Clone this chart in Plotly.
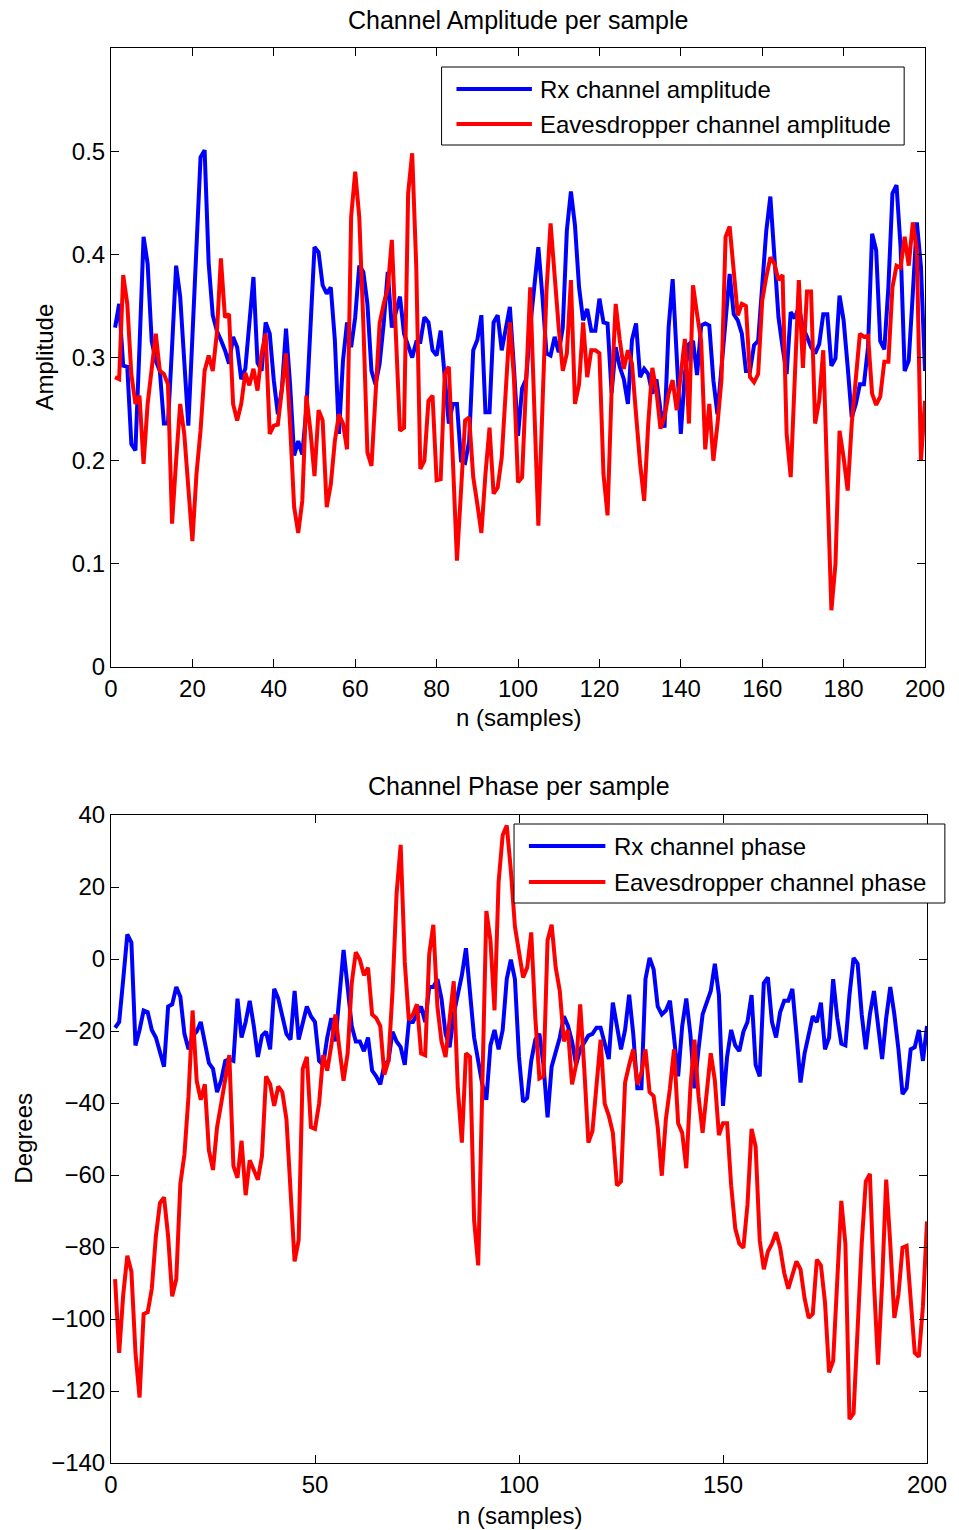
import plotly.graph_objects as go

n = list(range(1, 201))

amp_rx = [0.329,0.352,0.292,0.291,0.216,0.210,0.31,0.417,0.391,0.316,
0.297,0.287,0.236,0.236,0.31,0.389,0.359,0.300,0.234,0.32,
0.41,0.494,0.501,0.391,0.341,0.326,0.317,0.307,0.294,0.320,
0.310,0.279,0.289,0.329,0.378,0.295,0.287,0.334,0.323,0.278,
0.245,0.270,0.328,0.274,0.205,0.219,0.206,0.25,0.33,0.407,
0.402,0.370,0.362,0.368,0.317,0.226,0.297,0.334,0.310,0.339,
0.389,0.383,0.352,0.287,0.274,0.294,0.333,0.383,0.329,0.345,
0.359,0.323,0.310,0.300,0.315,0.315,0.339,0.334,0.307,0.302,
0.326,0.284,0.236,0.255,0.255,0.200,0.198,0.219,0.307,0.317,
0.341,0.247,0.247,0.334,0.341,0.307,0.328,0.349,0.29,0.224,
0.270,0.279,0.33,0.37,0.407,0.359,0.304,0.302,0.320,0.305,
0.329,0.423,0.461,0.428,0.368,0.336,0.347,0.326,0.326,0.357,
0.334,0.333,0.266,0.310,0.291,0.279,0.255,0.317,0.333,0.281,
0.289,0.284,0.265,0.279,0.249,0.232,0.329,0.376,0.297,0.226,
0.284,0.313,0.316,0.283,0.331,0.333,0.331,0.278,0.245,0.29,
0.34,0.381,0.342,0.336,0.323,0.287,0.287,0.312,0.316,0.365,
0.423,0.456,0.391,0.339,0.310,0.284,0.344,0.338,0.349,0.329,
0.320,0.310,0.304,0.313,0.342,0.342,0.292,0.299,0.360,0.336,
0.291,0.242,0.255,0.274,0.274,0.310,0.420,0.404,0.316,0.308,
0.368,0.459,0.467,0.407,0.287,0.297,0.362,0.431,0.388,0.287]

amp_eve = [0.281,0.279,0.380,0.352,0.284,0.255,0.263,0.197,0.255,0.291,
0.323,0.287,0.284,0.274,0.139,0.20,0.255,0.226,0.174,0.122,
0.187,0.229,0.287,0.302,0.287,0.323,0.396,0.339,0.342,0.255,
0.239,0.255,0.285,0.273,0.289,0.268,0.304,0.323,0.226,0.234,
0.235,0.268,0.304,0.235,0.155,0.130,0.161,0.263,0.229,0.185,
0.249,0.239,0.155,0.177,0.219,0.245,0.236,0.211,0.436,0.480,
0.436,0.333,0.208,0.195,0.268,0.333,0.352,0.367,0.414,0.329,
0.229,0.232,0.459,0.498,0.388,0.192,0.200,0.258,0.263,0.181,
0.182,0.284,0.291,0.200,0.103,0.171,0.239,0.242,0.184,0.158,
0.130,0.187,0.232,0.168,0.174,0.203,0.268,0.334,0.28,0.179,
0.184,0.278,0.368,0.252,0.137,0.252,0.365,0.430,0.375,0.329,
0.287,0.304,0.375,0.255,0.274,0.334,0.281,0.307,0.307,0.304,
0.187,0.147,0.268,0.352,0.317,0.289,0.307,0.294,0.245,0.197,
0.161,0.236,0.290,0.268,0.231,0.242,0.265,0.278,0.249,0.287,
0.318,0.236,0.370,0.342,0.316,0.211,0.255,0.200,0.235,0.279,
0.417,0.427,0.384,0.341,0.352,0.350,0.281,0.276,0.284,0.355,
0.378,0.397,0.391,0.375,0.380,0.226,0.184,0.284,0.375,0.290,
0.364,0.364,0.236,0.258,0.307,0.18,0.055,0.100,0.229,0.203,
0.171,0.236,0.278,0.323,0.320,0.321,0.265,0.254,0.262,0.296,
0.296,0.368,0.389,0.387,0.417,0.389,0.431,0.404,0.200,0.258]

ph_rx = [-19.1,-17.5,-5.6,6.8,4.6,-24.0,-19.7,-14.3,-14.8,-19.7,
-21.8,-26.2,-29.9,-13.2,-12.6,-7.8,-10.5,-20.8,-25.1,-21.3,
-20.2,-17.5,-23.5,-28.9,-30.5,-37.0,-33.7,-28.3,-27.8,-28.3,
-11.0,-21.8,-17.5,-11.6,-18.6,-27.2,-21.3,-20.2,-25.1,-8.3,
-11.0,-16.4,-20.8,-22.4,-8.9,-22.4,-17.5,-13.2,-15.9,-17.5,
-28.3,-29.4,-21.8,-16.4,-22.9,-11.0,2.5,-7.8,-18.6,-22.9,
-22.9,-25.6,-21.8,-31.0,-32.6,-34.8,-29.4,-28.3,-20.2,-22.9,
-24.5,-29.4,-17.5,-17.5,-15.4,-13.2,-17.5,-7.8,-7.8,-5.6,
-11.0,-20.8,-24.5,-15.4,-9.9,-4.5,3.0,-8.9,-21.8,-28.3,
-34.8,-39.1,-24.0,-19.7,-25.1,-19.7,-5.6,-0.2,-5.6,-27.2,
-39.7,-38.6,-28.3,-22.4,-20.8,-29.4,-44.0,-29.9,-26.2,-21.8,
-15.9,-18.6,-22.9,-29.4,-25.1,-22.9,-21.3,-20.8,-19.1,-19.1,
-24.0,-27.8,-12.1,-18.6,-25.1,-19.7,-9.9,-20.8,-35.9,-35.9,
-5.6,0.3,-2.9,-13.2,-15.4,-14.3,-11.6,-21.8,-32.6,-18.6,
-11.0,-20.8,-35.9,-25.1,-15.4,-12.1,-8.9,-1.3,-10.0,-40.8,
-27.2,-19.7,-24.0,-25.6,-20.2,-17.5,-10.0,-29.4,-32.6,-6.7,
-5.1,-17.5,-21.8,-14.8,-11.6,-11.6,-8.3,-20.8,-34.3,-26.2,
-20.8,-15.9,-17.5,-12.1,-25.1,-21.8,-5.6,-16.4,-23.5,-24.0,
-10.0,0.3,-1.3,-15.4,-25.1,-15.4,-8.9,-18.6,-27.8,-16.4,
-7.8,-15.4,-25.1,-37.5,-35.9,-25.1,-24.5,-19.7,-28.3,-18.6]

ph_eve = [-88.9,-109.4,-93.2,-82.4,-86.8,-109.4,-121.8,-98.6,-98.1,-91.6,
-77.0,-67.8,-66.2,-77.0,-93.7,-88.9,-62.4,-54.3,-38.1,-14.3,
-33.8,-39.1,-34.8,-53.2,-58.6,-46.7,-40.2,-33.8,-26.7,-57.5,
-60.8,-50.5,-65.6,-55.9,-58.6,-61.3,-54.8,-32.6,-34.8,-40.8,
-35.4,-37.0,-44.5,-64.0,-84.0,-78.1,-30.5,-27.2,-46.7,-47.2,
-40.2,-26.7,-31.0,-24.0,-15.4,-25.1,-33.8,-26.2,-6.7,1.9,
-0.2,-4.5,-2.4,-15.4,-16.4,-18.6,-32.1,-28.3,-8.9,18.2,
31.7,-0.8,-17.0,-15.4,-12.6,-26.2,-26.7,1.4,9.5,-13.2,
-22.9,-27.2,-16.4,-6.2,-35.9,-51.0,-26.2,-27.2,-72.6,-85.1,
-35.9,13.3,5.2,-14.3,21.4,34.4,37.1,24.6,9.0,2.0,
-5.1,-2.4,7.4,-16.4,-33.2,-32.6,5.2,9.5,-2.4,-8.9,
-22.9,-19.7,-34.8,-29.4,-12.6,-30.5,-51.0,-47.8,-35.9,-22.4,
-40.2,-43.5,-48.3,-62.9,-61.8,-34.3,-29.4,-25.1,-34.8,-31.6,
-25.1,-37.0,-38.1,-46.7,-60.2,-44.5,-35.9,-25.1,-45.6,-48.3,
-58.1,-35.9,-22.4,-38.1,-48.3,-37.0,-26.2,-33.7,-48.9,-45.6,
-45.6,-62.9,-74.8,-79.1,-80.2,-68.3,-47.2,-52.1,-78.1,-86.2,
-81.3,-79.1,-75.9,-80.2,-87.2,-91.6,-87.8,-84.0,-86.2,-94.3,
-99.7,-98.6,-83.5,-85.1,-95.4,-114.8,-111.6,-89.9,-67.2,-79.1,
-127.8,-126.2,-100.8,-79.1,-61.8,-59.7,-89.9,-112.7,-89.9,-61.3,
-79.1,-99.7,-93.2,-80.2,-79.7,-95.4,-109.4,-110.5,-96.5,-72.9]

top_title = "Channel Amplitude per sample"
bot_title = "Channel Phase per sample"
top_legend = ["Rx channel amplitude", "Eavesdropper channel amplitude"]
bot_legend = ["Rx channel phase", "Eavesdropper channel phase"]

W, H = 959, 1530
ML, MR, MT, MB = 111, 26, 48, 67
PW = W - ML - MR
PH = H - MT - MB

def px(x):
    return (x - ML) / PW

def py(y):
    return (H - MB - y) / PH

FONT = "Liberation Sans, Arial, Helvetica, sans-serif"
FS = 24
BLUE = "#0000ff"
RED = "#ff0000"
LW = 4

fig = go.Figure()
fig.add_trace(go.Scatter(x=n, y=amp_rx, mode="lines", line=dict(color=BLUE, width=LW),
                         xaxis="x", yaxis="y", showlegend=False))
fig.add_trace(go.Scatter(x=n, y=amp_eve, mode="lines", line=dict(color=RED, width=LW),
                         xaxis="x", yaxis="y", showlegend=False))
fig.add_trace(go.Scatter(x=n, y=ph_rx, mode="lines", line=dict(color=BLUE, width=LW),
                         xaxis="x2", yaxis="y2", showlegend=False))
fig.add_trace(go.Scatter(x=n, y=ph_eve, mode="lines", line=dict(color=RED, width=LW),
                         xaxis="x2", yaxis="y2", showlegend=False))

axis_common = dict(showline=True, linecolor="black", linewidth=1, mirror="ticks",
                   ticks="inside", ticklen=8, tickcolor="black", tickwidth=1,
                   showgrid=False, zeroline=False,
                   tickfont=dict(family=FONT, size=FS, color="black"))

fig.update_layout(
    width=W, height=H,
    margin=dict(l=ML, r=MR, t=MT, b=MB),
    paper_bgcolor="white", plot_bgcolor="white",
    showlegend=False,
    xaxis=dict(domain=[0, px(931)], range=[0, 200], tickvals=list(range(0, 201, 20)),
               anchor="y", **axis_common),
    yaxis=dict(domain=[py(667), 1], range=[0, 0.6],
               tickvals=[0, 0.1, 0.2, 0.3, 0.4, 0.5],
               ticktext=["0", "0.1", "0.2", "0.3", "0.4", "0.5"],
               anchor="x", **axis_common),
    xaxis2=dict(domain=[0, px(933)], range=[0, 200], tickvals=list(range(0, 201, 50)),
                anchor="y2", **axis_common),
    yaxis2=dict(domain=[0, py(815)], range=[-140, 40], tickvals=list(range(-140, 41, 20)),
                ticktext=[("\u2212" + str(-v)) if v < 0 else str(v) for v in range(-140, 41, 20)],
                anchor="x2", **axis_common),
)

ann = []
def text(x, y, s, anchor="center", angle=0, size=FS):
    ann.append(dict(x=px(x), y=py(y), xref="paper", yref="paper", text=s,
                    showarrow=False, xanchor=anchor, yanchor="middle", textangle=angle,
                    font=dict(family=FONT, size=size, color="black")))

text(521, 20, top_title, size=25)
text(522, 786, bot_title, size=25)
text(521, 717, "n (samples)")
text(522, 1515, "n (samples)")
text(44, 357, "Amplitude", angle=-90)
text(22, 1138, "Degrees", angle=-90)

shapes = []
def legend(x0, y0, x1, y1, lx0, lx1, ly, tx, labels):
    shapes.append(dict(type="rect", xref="paper", yref="paper",
                       x0=px(x0), x1=px(x1), y0=py(y1), y1=py(y0),
                       line=dict(color="black", width=1), fillcolor="white", layer="above"))
    for yy, col, lab in zip(ly, [BLUE, RED], labels):
        shapes.append(dict(type="line", xref="paper", yref="paper",
                           x0=px(lx0), x1=px(lx1), y0=py(yy), y1=py(yy),
                           line=dict(color=col, width=LW), layer="above"))
        text(tx, yy, lab, anchor="left")

legend(444, 67, 910, 145, 459, 535, [89, 124], 541, top_legend)
legend(517, 824, 951, 903, 532, 609, [846, 882], 616, bot_legend)

fig.update_layout(annotations=ann, shapes=shapes)
fig.write_html("out.html")
